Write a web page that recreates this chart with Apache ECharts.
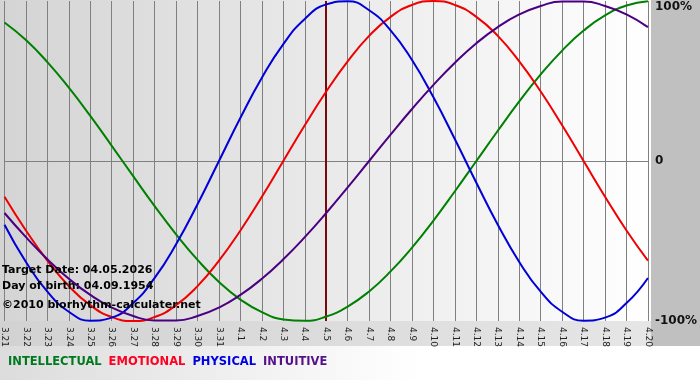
<!DOCTYPE html>
<html>
<head>
<meta charset="utf-8">
<script src="https://cdn.jsdelivr.net/npm/echarts@6/dist/echarts.min.js"></script>
<style>html,body{margin:0;padding:0;background:#fff}#c{width:700px;height:380px}</style>
</head>
<body>
<div id="c"></div>
<script>
const categories = ['3.21','3.22','3.23','3.24','3.25','3.26','3.27','3.28','3.29','3.30','3.31',
  '4.1','4.2','4.3','4.4','4.5','4.6','4.7','4.8','4.9','4.10','4.11','4.12','4.13','4.14','4.15','4.16','4.17','4.18','4.19','4.20'];
const intellectual = [86.6,75.6,61.8,45.8,28.2,9.5,-9.5,-28.2,-45.8,-61.8,-75.6,-86.6,-94.5,-99.0,-99.9,-97.2,-91.0,-81.5,-69.0,-54.1,-37.2,-18.9,0,18.9,37.2,54.1,69.0,81.5,91.0,97.2,99.9];
const emotional = [-22.3,-43.4,-62.3,-78.2,-90.1,-97.5,-100,-97.5,-90.1,-78.2,-62.3,-43.4,-22.3,0,22.3,43.4,62.3,78.2,90.1,97.5,100,97.5,90.1,78.2,62.3,43.4,22.3,0,-22.3,-43.4,-62.3];
const physical = [-39.8,-63.1,-81.7,-94.2,-99.8,-97.9,-88.8,-73.1,-52.0,-27.0,0,27.0,52.0,73.1,88.8,97.9,99.8,94.2,81.7,63.1,39.8,13.6,-13.6,-39.8,-63.1,-81.7,-94.2,-99.8,-97.9,-88.8,-73.1];
const intuitive = [-32.5,-47.6,-61.4,-73.6,-83.7,-91.6,-96.9,-99.7,-99.7,-96.9,-91.6,-83.7,-73.6,-61.4,-47.6,-32.5,-16.5,0,16.5,32.5,47.6,61.4,73.6,83.7,91.6,96.9,99.7,99.7,96.9,91.6,83.7];
const yTicks = {'100':'100%','0':'0','-100':'-100%'};
const targetDay = '4.5';
const infoLines = ['Target Date: 04.05.2026','Day of birth: 04.09.1954','\u00a92010 biorhythm-calculater.net'];
const seriesNames = ['INTELLECTUAL','EMOTIONAL','PHYSICAL','INTUITIVE'];
const seriesColors = ['#008000','#f00000','#0000d8','#4b0082'];
const legendColors = ['#007a1e','#ff0022','#0000e0','#55108a'];

const chart = echarts.init(document.getElementById('c'), null, {renderer:'canvas'});
const dataSets = [intellectual, emotional, physical, intuitive];
const FONT = '"DejaVu Sans", Verdana, sans-serif';

const series = dataSets.map((d,i)=>({
  name: seriesNames[i], type:'line', data:d, smooth:true, symbol:'none',
  lineStyle:{color:seriesColors[i], width:2}, itemStyle:{color:seriesColors[i]}, z:3,
  markLine: i===0 ? {silent:true, symbol:'none', label:{show:false}, z:2,
    lineStyle:{color:'#7a0a0a', width:2, type:'solid'}, data:[{xAxis:targetDay}]} : undefined
}));

chart.setOption({
  animation:false,
  backgroundColor:'#ffffff',
  grid:{left:1, right:49, top:1, bottom:59, containLabel:false},
  graphic:[
    {type:'rect', z:-10, silent:true, shape:{x:0,y:0,width:700,height:368}, style:{fill:'#c0c0c0'}},
    {type:'rect', z:-9, silent:true, shape:{x:0,y:0,width:651,height:321},
      style:{fill:new echarts.graphic.LinearGradient(0,0,1,0,[{offset:0,color:'#d4d4d4'},{offset:1,color:'#ffffff'}])}},
    {type:'rect', z:-9, silent:true, shape:{x:0,y:321,width:651,height:25},
      style:{fill:new echarts.graphic.LinearGradient(0,0,1,0,[{offset:0,color:'#d2d2d2'},{offset:1,color:'#e6e6e6'}])}},
    {type:'rect', z:-9, silent:true, shape:{x:0,y:346,width:700,height:34},
      style:{fill:new echarts.graphic.LinearGradient(0,0,1,0,[{offset:0,color:'#dcdcdc'},{offset:0.6,color:'#ffffff'},{offset:1,color:'#ffffff'}])}},
    ...infoLines.map((t,i)=>({type:'text', z:10, silent:true, left:2, top:[265,281,300][i],
      style:{text:t, fill:'#000', font:'bold 11px '+FONT}}))
  ],
  legend:{left:3, top:356, padding:0, itemWidth:0, itemHeight:0, itemGap:2, icon:'none', selectedMode:false,
    data: seriesNames.map((n,i)=>({name:n, textStyle:{color:legendColors[i]}})),
    textStyle:{fontFamily:FONT, fontWeight:'bold', fontSize:11.5}},
  xAxis:{type:'category', data:categories, boundaryGap:false,
    axisLine:{show:true, lineStyle:{color:'#808080', width:1}},
    axisTick:{show:true, length:5, alignWithLabel:true, interval:0, lineStyle:{color:'#808080'}},
    splitLine:{show:true, interval:0, lineStyle:{color:'#808080', width:1}},
    axisLabel:{interval:0, rotate:-90, margin:6, fontSize:9, fontFamily:FONT, color:'#222'}},
  yAxis:{type:'value', position:'right', min:-100, max:100, interval:100,
    axisLine:{show:false}, axisTick:{show:false},
    splitLine:{show:true, lineStyle:{color:['transparent','#808080','transparent'], width:1}},
    axisLabel:{margin:7, fontFamily:FONT, fontWeight:'bold', fontSize:12, color:'#111',
      formatter:v=> v===100 ? '{t|'+yTicks['100']+'}' : yTicks[String(v)],
      rich:{t:{padding:[11,0,0,0], fontFamily:FONT, fontWeight:'bold', fontSize:12, color:'#111'}}}},
  series: series
});
</script>
</body>
</html>
